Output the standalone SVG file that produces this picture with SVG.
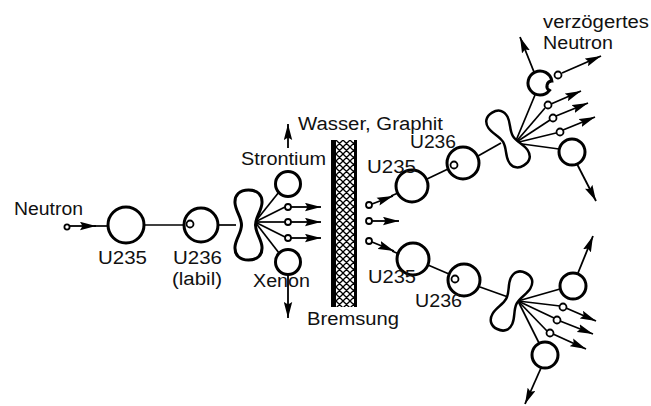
<svg xmlns="http://www.w3.org/2000/svg" width="651" height="406" viewBox="0 0 651 406">
  <defs>
    <style>
      .lbl { font-family: "Liberation Sans", Arial, sans-serif; font-size: 18px; fill: #111; }
      .nuc { fill: #fff; stroke: #000; stroke-width: 3; }
      .neu { fill: #fff; stroke: #000; stroke-width: 1.8; }
      .ln  { fill: none; stroke: #000; stroke-width: 1.7; }
      .arr { fill: none; stroke: #000; stroke-width: 1.8; marker-end: url(#head); }
      .split { fill: #fff; stroke: #000; stroke-width: 3; }
    </style>
    <marker id="head" viewBox="0 -4.5 16 9" refX="16" refY="0" markerWidth="16" markerHeight="9" markerUnits="userSpaceOnUse" orient="auto">
      <path d="M0,-4.2 L16,0 L0,4.2 L2.5,0 Z" fill="#000"/>
    </marker>
    <!-- cross-hatched moderator slab -->
    <pattern id="hatch" patternUnits="userSpaceOnUse" width="7" height="7">
      <rect width="7" height="7" fill="#fff"/>
      <path d="M0,0 L7,7 M-1,6 L1,8 M6,-1 L8,1 M0,7 L7,0 M-1,1 L1,-1 M6,8 L8,6" stroke="#000" stroke-width="1.3"/>
    </pattern>
    <!-- deformed (splitting) nucleus, centred at the origin, long axis vertical -->
    <path id="peanut" d="M0,-35 C9,-35 14,-30 13.5,-22 C13,-14 7,-8 7,0 C7,8 13,14 13.5,22 C14,30 9,35 0,35 C-9,35 -14,30 -13.5,22 C-13,14 -7,8 -7,0 C-7,-8 -13,-14 -13.5,-22 C-14,-30 -9,-35 0,-35 Z"/>
  </defs>

  <rect width="651" height="406" fill="#fff"/>

  <!-- connectors -->
  <g id="connectors">
    <!-- incoming neutron -->
    <path class="arr" d="M70,226 L96,226"/>
    <path class="ln" d="M94,226 L108,226"/>
    <path class="ln" d="M144,225 L184,225"/>
    <path class="ln" d="M218,225 L236,225"/>
    <!-- first fission fragments -->
    <path class="ln" d="M255,222 L279,192"/>
    <path class="ln" d="M255,222 L285,207"/>
    <path class="ln" d="M255,222 L285,222"/>
    <path class="ln" d="M255,222 L285,237"/>
    <path class="ln" d="M255,222 L279,253"/>
    <path class="arr" d="M291,207 L321,207"/>
    <path class="arr" d="M291,222 L321,222"/>
    <path class="arr" d="M291,238 L321,238"/>
    <path class="arr" d="M288,148 L288,124"/>
    <path class="arr" d="M288,275 L288,318"/>
    <!-- moderated neutrons -->
    <path class="arr" d="M372,204 L393,196"/>
    <path class="ln" d="M391,196 L398,193"/>
    <path class="arr" d="M372,221 L399,221"/>
    <path class="arr" d="M372,242 L394,251"/>
    <path class="ln" d="M392,251 L399,254"/>
    <!-- upper chain -->
    <path class="ln" d="M427,179 L448,169"/>
    <path class="ln" d="M478,156 L501,143"/>
    <path class="ln" d="M515,143 L535,95"/>
    <path class="ln" d="M515,143 L545,108"/>
    <path class="ln" d="M515,143 L550,120"/>
    <path class="ln" d="M515,143 L556,133"/>
    <path class="ln" d="M515,143 L559,149"/>
    <path class="arr" d="M551,104 L581,91"/>
    <path class="arr" d="M556,116 L588,103"/>
    <path class="arr" d="M563,130 L595,117"/>
    <path class="arr" d="M534,72 L520,37"/>
    <path class="arr" d="M562,73 L601,56"/>
    <path class="arr" d="M577,164 L596,201"/>
    <!-- lower chain -->
    <path class="ln" d="M428,265 L449,274"/>
    <path class="ln" d="M480,287 L508,297"/>
    <path class="ln" d="M518,301 L560,289"/>
    <path class="ln" d="M518,301 L560,306"/>
    <path class="ln" d="M518,301 L554,318"/>
    <path class="ln" d="M518,301 L547,331"/>
    <path class="ln" d="M518,301 L539,343"/>
    <path class="arr" d="M566,308 L596,321"/>
    <path class="arr" d="M560,321 L593,334"/>
    <path class="arr" d="M553,334 L586,349"/>
    <path class="arr" d="M578,273 L593,236"/>
    <path class="arr" d="M541,368 L525,404"/>
  </g>

  <!-- moderator -->
  <g id="moderator">
    <rect x="334" y="140" width="22" height="167" fill="url(#hatch)"/>
    <rect x="331" y="140" width="5" height="167" fill="#000"/>
    <rect x="354" y="140" width="3" height="167" fill="#000"/>
    <text class="lbl" x="298" y="130" textLength="145" lengthAdjust="spacingAndGlyphs">Wasser, Graphit</text>
    <text class="lbl" x="307" y="325" textLength="92" lengthAdjust="spacingAndGlyphs">Bremsung</text>
  </g>

  <g id="neutron-in">
    <circle class="neu" cx="67" cy="227" r="2.6"/>
    <text class="lbl" x="14" y="215" textLength="69" lengthAdjust="spacingAndGlyphs">Neutron</text>
  </g>

  <g id="u235">
    <circle class="nuc" cx="126" cy="225" r="18"/>
    <text class="lbl" x="98" y="264" textLength="49" lengthAdjust="spacingAndGlyphs">U235</text>
  </g>

  <g id="u236">
    <circle class="nuc" cx="201" cy="225" r="17"/>
    <circle class="neu" cx="190" cy="224" r="3.5"/>
    <text class="lbl" x="173" y="264" textLength="49" lengthAdjust="spacingAndGlyphs">U236</text>
    <text class="lbl" x="172" y="285" textLength="50" lengthAdjust="spacingAndGlyphs">(labil)</text>
  </g>

  <g id="split-1">
    <use href="#peanut" class="split" transform="translate(248.5,225)"/>
  </g>

  <g id="strontium">
    <circle class="nuc" cx="288" cy="184" r="12.5"/>
    <text class="lbl" x="241" y="165" textLength="85" lengthAdjust="spacingAndGlyphs">Strontium</text>
  </g>

  <g id="xenon">
    <circle class="nuc" cx="288" cy="262" r="12.5"/>
    <text class="lbl" x="253" y="287" textLength="57" lengthAdjust="spacingAndGlyphs">Xenon</text>
  </g>

  <g id="neutrons-1">
    <circle class="neu" cx="288" cy="207" r="3"/>
    <circle class="neu" cx="288" cy="222" r="3"/>
    <circle class="neu" cx="288" cy="238" r="3"/>
  </g>

  <g id="neutrons-slow">
    <circle class="neu" cx="369" cy="205" r="3"/>
    <circle class="neu" cx="369" cy="221" r="3"/>
    <circle class="neu" cx="369" cy="241" r="3"/>
  </g>

  <g id="u235-a">
    <circle class="nuc" cx="412" cy="186" r="16"/>
    <text class="lbl" x="367" y="173" textLength="49" lengthAdjust="spacingAndGlyphs">U235</text>
  </g>

  <g id="u236-a">
    <circle class="nuc" cx="463" cy="163" r="16"/>
    <circle class="neu" cx="454" cy="165" r="3.5"/>
    <text class="lbl" x="410" y="148" textLength="46" lengthAdjust="spacingAndGlyphs">U236</text>
  </g>

  <g id="split-a">
    <use href="#peanut" class="split" transform="translate(508,139) rotate(-31) scale(0.82,0.88)"/>
  </g>

  <g id="fragment-a1">
    <path class="nuc" d="M551.83,80.99 A12,12 0 1 0 549.49,90.35 A5,5 0 0 1 551.83,80.99 Z"/>
  </g>

  <g id="neutron-delayed">
    <circle class="neu" cx="558" cy="75" r="3.5"/>
    <text class="lbl" x="543" y="28" textLength="106" lengthAdjust="spacingAndGlyphs">verzögertes</text>
    <text class="lbl" x="543" y="49" textLength="70" lengthAdjust="spacingAndGlyphs">Neutron</text>
  </g>

  <g id="neutrons-a">
    <circle class="neu" cx="548" cy="105" r="3.5"/>
    <circle class="neu" cx="553" cy="118" r="3.5"/>
    <circle class="neu" cx="560" cy="132" r="3.5"/>
  </g>

  <g id="fragment-a2">
    <circle class="nuc" cx="572" cy="152" r="13"/>
  </g>

  <g id="u235-b">
    <circle class="nuc" cx="413" cy="259" r="16"/>
    <text class="lbl" x="368" y="283" textLength="48" lengthAdjust="spacingAndGlyphs">U235</text>
  </g>

  <g id="u236-b">
    <circle class="nuc" cx="464" cy="280" r="16"/>
    <circle class="neu" cx="455" cy="279" r="3.5"/>
    <text class="lbl" x="415" y="307" textLength="47" lengthAdjust="spacingAndGlyphs">U236</text>
  </g>

  <g id="split-b">
    <use href="#peanut" class="split" transform="translate(511.5,301) rotate(27) scale(0.82,0.9)"/>
  </g>

  <g id="fragment-b1">
    <circle class="nuc" cx="573" cy="286" r="13"/>
  </g>

  <g id="neutrons-b">
    <circle class="neu" cx="563" cy="307" r="3.5"/>
    <circle class="neu" cx="557" cy="320" r="3.5"/>
    <circle class="neu" cx="550" cy="333" r="3.5"/>
  </g>

  <g id="fragment-b2">
    <circle class="nuc" cx="545" cy="355" r="13"/>
  </g>
</svg>
